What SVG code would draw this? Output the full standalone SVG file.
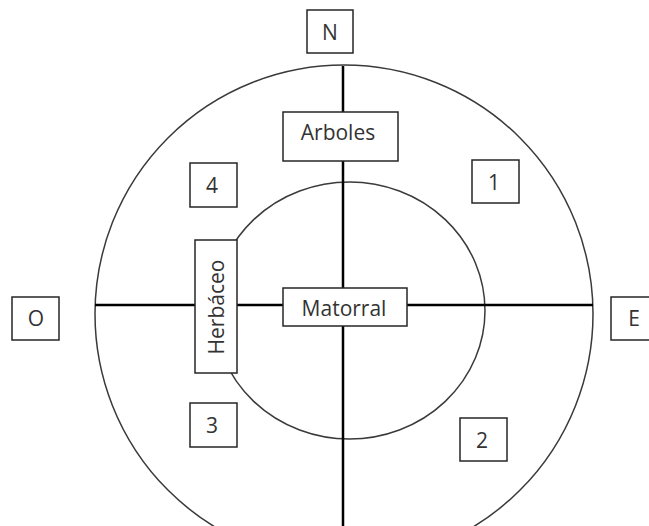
<svg xmlns="http://www.w3.org/2000/svg" width="649" height="526" viewBox="0 0 649 526">
<style>
.ring{fill:none;stroke:#3a3a3a;stroke-width:1.5}
.axis{stroke:#000;stroke-width:2.5}
.box{fill:#fff;stroke:#262626;stroke-width:1.5}
.lbl{font-family:"Open Sans","Liberation Sans",sans-serif;font-size:21px;fill:#333;text-anchor:middle}
</style>
<rect width="649" height="526" fill="#fff"/>
<circle class="ring" cx="344" cy="314" r="249"/>
<ellipse class="ring" cx="349.5" cy="310.5" rx="135.5" ry="128.5"/>
<g id="connectors">
<line class="axis" x1="343" y1="66" x2="343" y2="526"/>
<line class="axis" x1="95" y1="305" x2="593" y2="305"/>
</g>
<g id="N"><rect class="box" x="307" y="10" width="46" height="43"/><text class="lbl" x="330" y="39.5">N</text></g>
<g id="O"><rect class="box" x="12" y="297" width="47" height="43"/><text class="lbl" x="36" y="326">O</text></g>
<g id="E"><rect class="box" x="611" y="297" width="46" height="43"/><text class="lbl" x="634" y="326">E</text></g>
<g id="arboles"><rect class="box" x="283" y="112" width="115" height="49"/><text class="lbl" x="338" y="139.5">Arboles</text></g>
<g id="matorral"><rect class="box" x="283" y="288" width="124" height="38"/><text class="lbl" x="344" y="316">Matorral</text></g>
<g id="herbaceo"><rect class="box" x="195" y="240" width="42" height="133"/><text class="lbl" transform="translate(223.5,307) rotate(-90)" x="0" y="0">Herbáceo</text></g>
<g id="q4"><rect class="box" x="190" y="163" width="47" height="44"/><text class="lbl" x="212" y="192.5">4</text></g>
<g id="q1"><rect class="box" x="472" y="160" width="47" height="43"/><text class="lbl" x="494" y="189.5">1</text></g>
<g id="q3"><rect class="box" x="190" y="403" width="47" height="44"/><text class="lbl" x="212" y="432.5">3</text></g>
<g id="q2"><rect class="box" x="460" y="418" width="47" height="43"/><text class="lbl" x="482" y="447.5">2</text></g>
</svg>
